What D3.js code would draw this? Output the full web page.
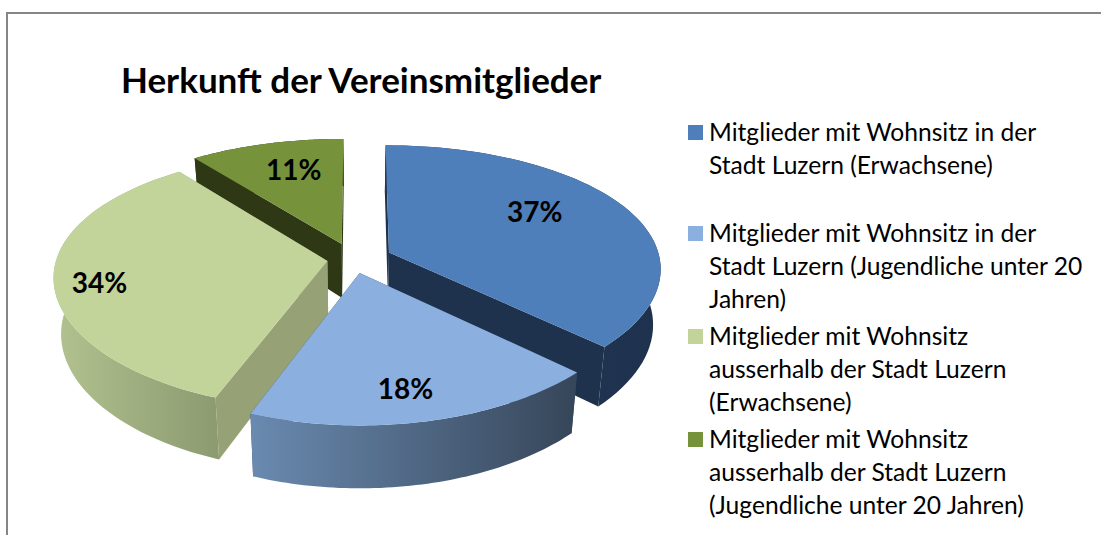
<!DOCTYPE html>
<html><head><meta charset="utf-8">
<script src="https://cdn.jsdelivr.net/npm/d3@7/dist/d3.min.js"></script>
<style>html,body{margin:0;padding:0;background:#fff;overflow:hidden}svg{display:block}text{font-family:Lato,"Open Sans",sans-serif;fill:#000}</style>
</head><body><svg id="c" width="1101" height="535"></svg>
<script>
const chartTitle = "Herkunft der Vereinsmitglieder";
const categories = ["Erwachsene Stadt","Jugendliche Stadt","Erwachsene ausserhalb","Jugendliche ausserhalb"];
const sliceValues = [37.1, 18.65, 33.85, 10.4];
const dataLabels = ["37%","18%","34%","11%"];
const legendLines = [
  ["Mitglieder mit Wohnsitz in der","Stadt Luzern (Erwachsene)"],
  ["Mitglieder mit Wohnsitz in der","Stadt Luzern (Jugendliche unter 20","Jahren)"],
  ["Mitglieder mit Wohnsitz","ausserhalb der Stadt Luzern","(Erwachsene)"],
  ["Mitglieder mit Wohnsitz","ausserhalb der Stadt Luzern","(Jugendliche unter 20 Jahren)"]
];
const topColors = ["#4f7fba","#8bb0e0","#c2d49a","#76933c"];
const wallColors = ["#1e324e","#384860","#96a275","#2f3815"];
const rimStops = [["#24395a","#1e324e"],["#6a8ab0","#364659"],["#b2c28f","#8c9a70"],["#2f3815","#2f3815"]];

// layout of the projected disk
const cx=357, cy=259, Rx=271, Ry=125, perspY=0.15, perspX=0.12, depth=55;
const explode=[0.13,0.11,0.11,0.135], explodeDir=[66,175,262,335];
const labelAngle=[59,169.25,258.1,343.55], labelR=[0.663,0.804,0.838,0.703];
const drawOrder=[3,0,2,1];

const svg=d3.select("#c");
const sx=d3.scaleLinear().domain([-1,1]).range([cx-Rx,cx+Rx]);
const sy=d3.scaleLinear().domain([-1,1]).range([cy-Ry,cy+Ry]);
function proj(X,Y,z){
  const s=1/(1-perspY*Y), q=1/(1-perspX*Y), k=1-0.025*z;
  return [cx+(sx(X)-cx)*q*k, cy+(sy(Y)-cy)*s+z*depth*(1+0.13*Y)];
}
const rad=d=>d*Math.PI/180;
const pie=d3.pie().sort(null).value(d=>d)(sliceValues);
const line=d3.line();
const defs=svg.append("defs");
rimStops.forEach((st,i)=>{
  const g=defs.append("linearGradient").attr("id","rim"+i);
  g.append("stop").attr("offset",0).attr("stop-color",st[0]);
  g.append("stop").attr("offset",1).attr("stop-color",st[1]);
});
// frame
svg.append("path").attr("d",line([[7,535],[7,13],[1101,13]])).attr("fill","none").attr("stroke","#868686").attr("stroke-width",2);

const offs=i=>[explode[i]*Math.sin(rad(explodeDir[i])),-explode[i]*Math.cos(rad(explodeDir[i]))];
const g=svg.append("g");
drawOrder.forEach(i=>{
  const a=pie[i], [ox,oy]=offs(i);
  const pt=(t,r,z)=>proj(ox+r*Math.sin(t),oy-r*Math.cos(t),z);
  const ts=d3.range(0,61).map(k=>a.startAngle+(a.endAngle-a.startAngle)*k/60);
  const arcTop=ts.map(t=>pt(t,1,0)), arcBot=ts.map(t=>pt(t,1,1));
  const wall=t=>line([pt(t,0,0),pt(t,1,0),pt(t,1,1),pt(t,0,1)])+"Z";
  g.append("path").attr("d",wall(a.startAngle)).attr("fill",wallColors[i]);
  g.append("path").attr("d",wall(a.endAngle)).attr("fill",wallColors[i]);
  g.append("path").attr("d",line(arcTop.concat(arcBot.slice().reverse()))+"Z").attr("fill",`url(#rim${i})`);
  g.append("path").attr("d",line([pt(0,0,0)].concat(arcTop))+"Z").attr("fill",topColors[i]);
});
// data labels
pie.forEach((a,i)=>{
  const [ox,oy]=offs(i), t=rad(labelAngle[i]);
  const p=proj(ox+labelR[i]*Math.sin(t),oy-labelR[i]*Math.cos(t),0);
  svg.append("text").attr("x",p[0]).attr("y",p[1]).attr("dy","0.35em").attr("text-anchor","middle")
     .attr("font-size",28).attr("font-weight",700).text(dataLabels[i]);
});
// title
svg.append("text").attr("x",121).attr("y",93).attr("font-size",35).attr("font-weight",700).text(chartTitle);
// legend
const lineStep=33, legendTop=[132,233,336,439];
legendLines.forEach((ls,i)=>{
  svg.append("rect").attr("x",688).attr("y",legendTop[i]-7).attr("width",15).attr("height",15).attr("fill",topColors[i]);
  ls.forEach((s,j)=>svg.append("text").attr("x",709).attr("y",legendTop[i]+j*lineStep).attr("dy","0.35em").attr("font-size",24.6).text(s));
});
</script></body></html>
